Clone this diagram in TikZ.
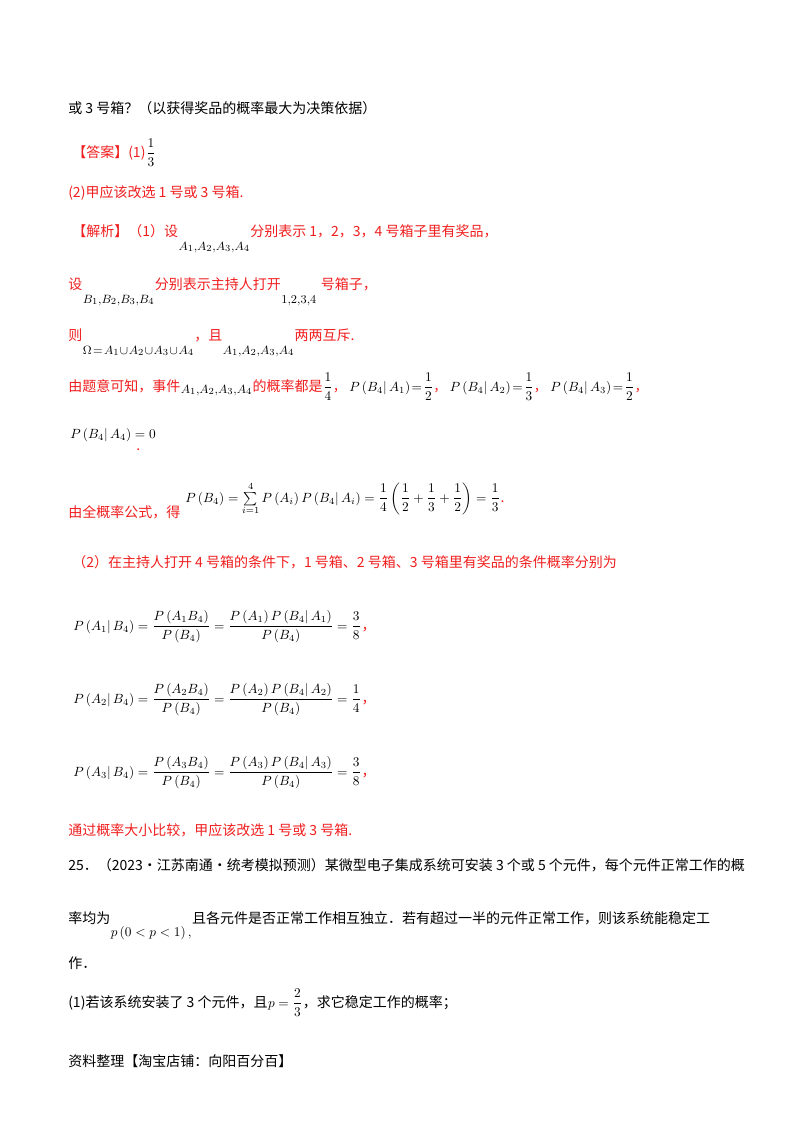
\documentclass[tikz,border=0pt]{standalone}
\usepackage{amsmath}
\usepackage{fontspec}
\setmainfont{Noto Sans CJK SC}
\definecolor{rd}{RGB}{240,30,30}
\begin{document}
\begin{tikzpicture}[x=0.75pt,y=-0.75pt,
  t/.style={anchor=base west,inner sep=0,font=\fontsize{10.5}{12}\selectfont},
  r/.style={t,text=rd},
  m/.style={t,font=\fontsize{10}{12}\selectfont},
  s/.style={t,font=\fontsize{9.5}{11}\selectfont}]
\useasboundingbox (0,0) rectangle (800,1132);
\node[t] (l1) at (68,113) {或 3 号箱？（以获得奖品的概率最大为决策依据）};
\node[r] (l2) at (72,157) {【答案】(1)};
\node[m] (l2m) at (l2.base east) {$\dfrac{1}{3}$};
\node[r] (l3) at (68,197) {(2)甲应该改选 1 号或 3 号箱.};
\node[r] (l4) at (72,236) {【解析】（1）设};
\node[s] (l4m) at ([yshift=-10.5pt]l4.base east) {$A_1,\!A_2,\!A_3,\!A_4$};
\node[r] (l4b) at (l4m.base east |- l4.base) {分别表示 1，2，3，4 号箱子里有奖品，};
\node[r] (l5) at (68,289) {设};
\node[s] (l5m) at ([yshift=-10.5pt]l5.base east) {$B_1,\!B_2,\!B_3,\!B_4$};
\node[r] (l5b) at (l5m.base east |- l5.base) {分别表示主持人打开};
\node[s] (l5c) at ([yshift=-10.5pt]l5b.base east) {$1,\!2,\!3,\!4$};
\node[r] (l5d) at ([xshift=3pt]l5c.base east |- l5.base) {号箱子，};
\node[r] (l6) at (68,340) {则};
\node[s] (l6m) at ([yshift=-10.5pt]l6.base east) {$\Omega\!=\!A_1\!\cup\! A_2\!\cup\! A_3\!\cup\! A_4$};
\node[r] (l6b) at (l6m.base east |- l6.base) {，且};
\node[s] (l6c) at ([yshift=-10.5pt]l6b.base east) {$A_1,\!A_2,\!A_3,\!A_4$};
\node[r] (l6d) at (l6c.base east |- l6.base) {两两互斥.};
\node[r] (l7) at (68,391) {由题意可知，事件};
\node[s] (l7m) at ([yshift=-1.5pt]l7.base east) {$A_1,\!A_2,\!A_3,\!A_4$};
\node[r] (l7b) at (l7m.base east |- l7.base) {的概率都是};
\node[m] (l7c) at (l7b.base east) {$\dfrac14$\textcolor{rd}{，} $P\left(B_4|\,A_1\right)\!=\!\dfrac12$\textcolor{rd}{，} $P\left(B_4|\,A_2\right)\!=\!\dfrac13$\textcolor{rd}{，} $P\left(B_4|\,A_3\right)\!=\!\dfrac12$\textcolor{rd}{，}};
\node[m] (l8) at (70,438) {$P\left(B_4|\,A_4\right)=0$};
\node[r] (l8b) at (136,450) {.};
\node[r] (l9) at (68,517) {由全概率公式，得};
\node[m] (l9m) at (185,502) {$P\left(B_4\right)=\sum\limits_{i=1}^{4}P\left(A_i\right)P\left(B_4|\,A_i\right)=\dfrac14\left(\dfrac12+\dfrac13+\dfrac12\right)=\dfrac13$};
\node[r] (l9b) at (l9m.base east) {.};
\node[r] (l10) at (72,567) {（2）在主持人打开 4 号箱的条件下，1 号箱、2 号箱、3 号箱里有奖品的条件概率分别为};
\node[m] (e1) at (73,630) {$P\left(A_1|\,B_4\right)=\dfrac{P\left(A_1B_4\right)}{P\left(B_4\right)}=\dfrac{P\left(A_1\right)P\left(B_4|\,A_1\right)}{P\left(B_4\right)}=\dfrac38$};
\node[r] (e1b) at (e1.base east) {，};
\node[m] (e2) at (73,703) {$P\left(A_2|\,B_4\right)=\dfrac{P\left(A_2B_4\right)}{P\left(B_4\right)}=\dfrac{P\left(A_2\right)P\left(B_4|\,A_2\right)}{P\left(B_4\right)}=\dfrac14$};
\node[r] (e2b) at (e2.base east) {，};
\node[m] (e3) at (73,776) {$P\left(A_3|\,B_4\right)=\dfrac{P\left(A_3B_4\right)}{P\left(B_4\right)}=\dfrac{P\left(A_3\right)P\left(B_4|\,A_3\right)}{P\left(B_4\right)}=\dfrac38$};
\node[r] (e3b) at (e3.base east) {，};
\node[r] (l11) at (68,835) {通过概率大小比较，甲应该改选 1 号或 3 号箱.};
\node[t] (l12) at (68,870) {25．（2023·江苏南通·统考模拟预测）某微型电子集成系统可安装 3 个或 5 个元件，每个元件正常工作的概};
\node[t] (l13) at (68,923) {率均为};
\node[m] (l13m) at ([yshift=-10pt]l13.base east) {$p\left(0<p<1\right),$};
\node[t] (l13b) at (l13m.base east |- l13.base) {且各元件是否正常工作相互独立．若有超过一半的元件正常工作，则该系统能稳定工};
\node[t] (l14) at (68,968) {作．};
\node[t] (l15) at (68,1007) {(1)若该系统安装了 3 个元件，且};
\node[m] (l15m) at (l15.base east) {$p=\dfrac23$};
\node[t] (l15b) at (l15m.base east) {，求它稳定工作的概率；};
\node[t] (l16) at (68,1066) {资料整理【淘宝店铺：向阳百分百】};
\end{tikzpicture}
\end{document}
